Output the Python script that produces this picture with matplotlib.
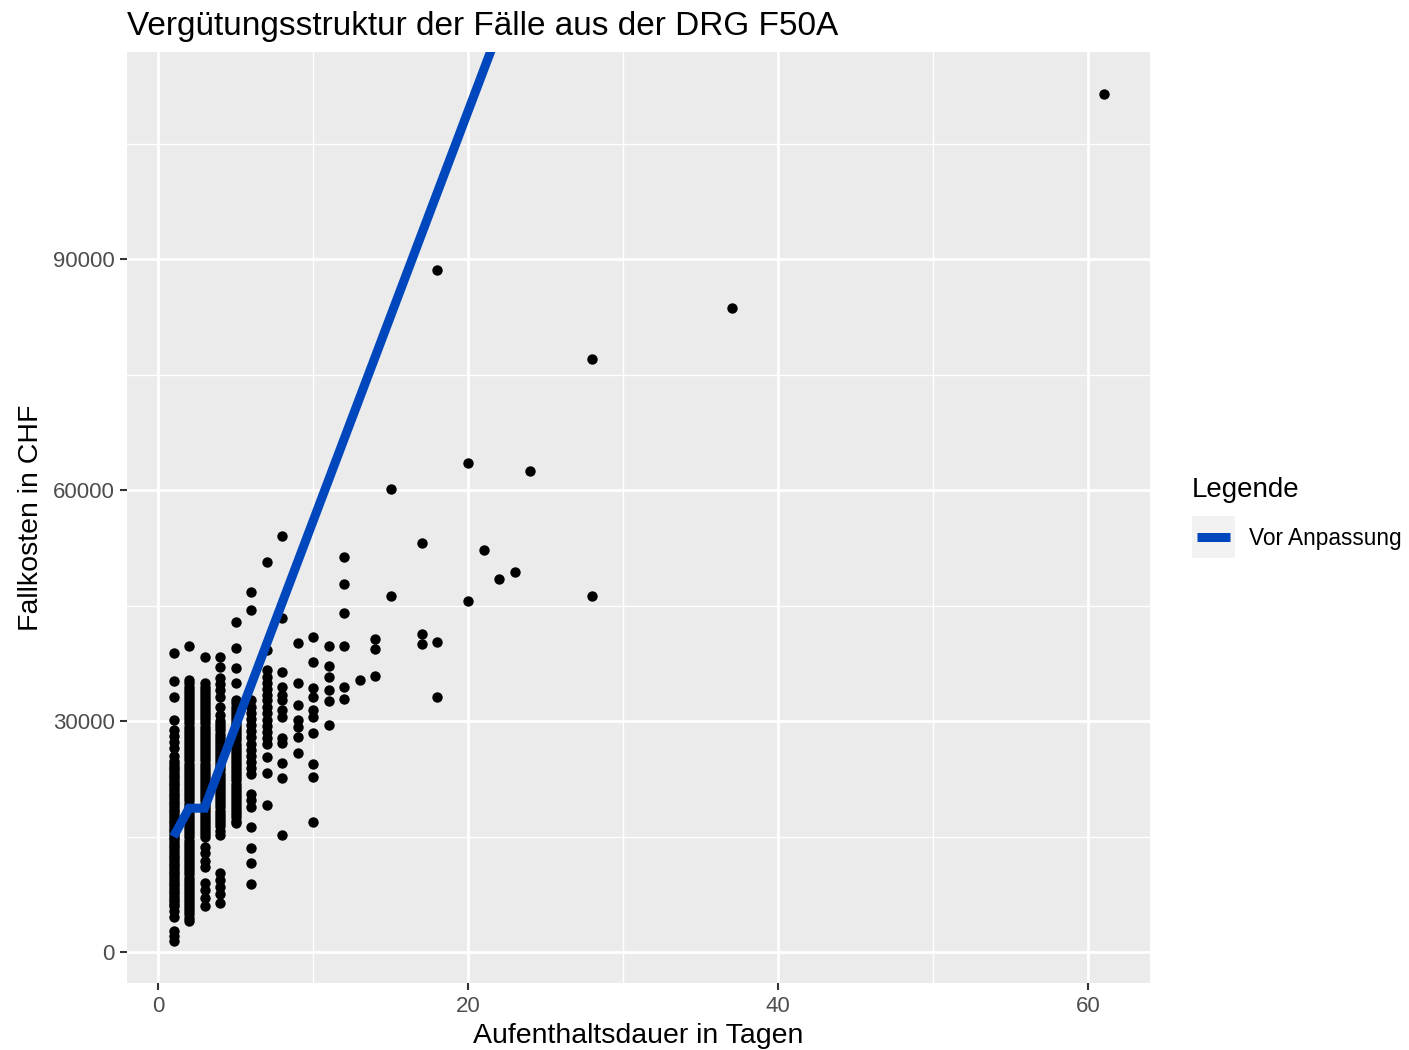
import numpy as np
import matplotlib.pyplot as plt
from matplotlib.lines import Line2D
from matplotlib.patches import Rectangle

plt.rcParams['font.family'] = ['Liberation Sans', 'DejaVu Sans']

# Falldaten (Fallkosten in CHF je Aufenthaltsdauer)
tag01 = [38900, 35200, 33200, 30100, 28800, 28100, 27300, 26500, 25500, 24800, 24450,
         24100, 23750, 23400, 23050, 22700, 22350, 22000, 21650, 21300, 20950, 20600,
         20250, 19900, 19550, 19200, 18850, 18500, 18150, 17800, 17450, 17100, 16750,
         16400, 16050, 15700, 15350, 15000, 14650, 14300, 13950, 13600, 13250, 12900,
         12550, 12200, 11850, 11500, 11150, 10800, 10450, 10100, 9750, 9400, 9050,
         8700, 8350, 8000, 7650, 7300, 6950, 6600, 6300, 6000, 5300, 4600, 2700, 2100,
         1500]
tag02 = [39700, 35300, 34900, 34500, 34100, 33700, 33300, 32900, 32500, 32100, 31700,
         31300, 30900, 30500, 30100, 29700, 29300, 28900, 28500, 28100, 27700, 27300,
         26900, 26500, 26100, 25700, 25300, 24900, 24500, 24100, 23700, 23300, 22900,
         22500, 22100, 21700, 21300, 20900, 20500, 20100, 19700, 19300, 18900, 18500,
         18100, 17700, 17300, 16900, 16500, 16100, 15700, 15300, 14900, 14500, 14100,
         13700, 13300, 12900, 12500, 12100, 11700, 11300, 10900, 10500, 10100, 9700,
         9300, 8900, 8500, 8100, 7700, 7300, 6900, 6500, 6100, 5700, 5300, 4900, 4500,
         4100]
tag03 = [38300, 34900, 34500, 34100, 33700, 33300, 32900, 32500, 32100, 31700, 31300,
         30900, 30500, 30100, 29700, 29300, 28900, 28500, 28100, 27700, 27300, 26900,
         26500, 26100, 25700, 25300, 24900, 24500, 24100, 23700, 23300, 22900, 22500,
         22100, 21700, 21300, 20900, 20500, 20100, 19700, 19300, 18900, 18500, 18100,
         17700, 17300, 16900, 16500, 16100, 15700, 15300, 14900, 13600, 12900, 11900,
         11000, 9000, 8100, 7000, 6000]
tag04 = [38300, 37100, 35600, 34800, 34000, 33200, 31900, 30800, 30000, 29600, 29200,
         28800, 28400, 28000, 27600, 27200, 26800, 26400, 26000, 25600, 25200, 24800,
         24400, 24000, 23600, 23200, 22800, 22400, 22000, 21600, 21200, 20800, 20400,
         20000, 19600, 19200, 18800, 18400, 18000, 17600, 17200, 16800, 16400, 15800,
         15200, 10300, 9400, 8500, 7500, 6400]
tag05 = [42900, 39500, 36900, 34900, 32700, 32300, 31900, 31500, 31100, 30700, 30300,
         29900, 29500, 29100, 28700, 28300, 27900, 27500, 27100, 26700, 26300, 25900,
         25500, 25100, 24700, 24300, 23900, 23500, 23100, 22700, 22300, 21900, 21500,
         21100, 20700, 20300, 19900, 19500, 19100, 18700, 18300, 17900, 17500, 17100,
         16800]
tag06 = [46800, 44400, 32700, 31900, 31100, 30300, 29500, 28700, 27900, 27100, 26300,
         25500, 24700, 23900, 23200, 20600, 19800, 18900, 16200, 13500, 11600, 8900]
tag07 = [50700, 39200, 36600, 35800, 35000, 34200, 33400, 32700, 31800, 31000, 30200,
         29400, 28600, 27800, 27100, 25300, 23300, 19100]
tag08 = [54000, 43400, 36400, 34400, 33400, 32700, 31400, 30600, 27800, 27200, 24600,
         22600, 15200]
tag09 = [40200, 34900, 32100, 30100, 29200, 28000, 25900]
tag10 = [40900, 37700, 34300, 33200, 31400, 30600, 28500, 24400, 22800, 16900]
tag11 = [39800, 37200, 35700, 34000, 32600, 29500]
tag12 = [51300, 47800, 44100, 39700, 34500, 32900]

rest_tage = [13, 14, 14, 14, 15, 15, 17, 17, 17, 18, 18, 18, 20, 20, 21, 22, 23, 24,
             28, 28, 37, 61]
rest_kosten = [35300, 40700, 39400, 35900, 60100, 46300, 53100, 41300, 40000, 88600,
               40300, 33200, 63500, 45600, 52200, 48500, 49400, 62500, 77000, 46200,
               83600, 111400]

# Verguetung vor Anpassung
linie_tage = [1, 2, 3, 25]
linie_kosten = [15000, 18700, 18700, 135800]

spalten = [tag01, tag02, tag03, tag04, tag05, tag06, tag07, tag08, tag09, tag10, tag11, tag12]
tage = []
kosten = []
for i, werte in enumerate(spalten):
    tage += [i + 1] * len(werte)
    kosten += werte
tage += rest_tage
kosten += rest_kosten

fig = plt.figure(figsize=(14.09, 10.50), dpi=100)
ax = fig.add_axes([127 / 1409, 1 - 983 / 1050, (1150 - 127) / 1409, (983 - 52) / 1050])
ax.set_facecolor('#EBEBEB')

ax.scatter(tage, kosten, s=56, color='black', linewidths=0, zorder=3)
ax.plot(linie_tage, linie_kosten, color='#0047BD', linewidth=6.5, zorder=4,
        solid_capstyle='butt', solid_joinstyle='miter')

ax.set_xlim(-2, 64)
ax.set_ylim(-4000, 116900)
ax.set_xticks([0, 20, 40, 60])
ax.set_yticks([0, 30000, 60000, 90000])
ax.set_xticks([10, 30, 50], minor=True)
ax.set_yticks([15000, 45000, 75000, 105000], minor=True)
ax.grid(which='major', color='white', linewidth=2.0, zorder=0)
ax.grid(which='minor', color='white', linewidth=1.0, zorder=0)
ax.set_axisbelow(True)
for s in ax.spines.values():
    s.set_visible(False)
ax.tick_params(which='major', length=5, width=1.5, color='#333333', labelsize=16,
               labelcolor='#4D4D4D', pad=4)
ax.tick_params(which='minor', length=0)

ax.set_xlabel('Aufenthaltsdauer in Tagen', fontsize=20.5, labelpad=5)
ax.set_ylabel('Fallkosten in CHF', fontsize=20.5, labelpad=6)
ax.set_title('Vergütungsstruktur der Fälle aus der DRG F50A', fontsize=24, loc='left', pad=12)

# Legende
fig.text(1192 / 1409, 1 - 490 / 1050, 'Legende', fontsize=20, va='center', ha='left')
fig.patches.append(Rectangle((1192 / 1409, 1 - 558 / 1050), 43 / 1409, 42 / 1050,
                             transform=fig.transFigure, facecolor='#F2F2F2', edgecolor='none'))
fig.lines.append(Line2D([1197 / 1409, 1230 / 1409], [1 - 537 / 1050, 1 - 537 / 1050],
                        transform=fig.transFigure, color='#0047BD', linewidth=6.5,
                        solid_capstyle='butt'))
fig.text(1249 / 1409, 1 - 538 / 1050, 'Vor Anpassung', fontsize=16.3, va='center', ha='left')

fig.savefig('out.png', dpi=100)
